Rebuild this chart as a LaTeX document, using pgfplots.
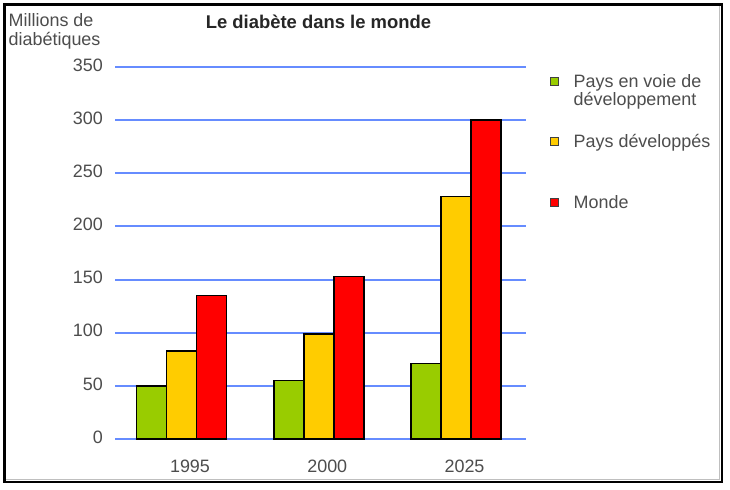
\documentclass[border=0pt]{standalone}
\usepackage{pgfplots}
\pgfplotsset{compat=1.18}
\usepackage{fontspec}
\setmainfont{Liberation Sans}
\definecolor{gridblue}{RGB}{102,140,255}
\definecolor{bargreen}{RGB}{153,204,0}
\definecolor{baryellow}{RGB}{255,204,0}
\definecolor{barred}{RGB}{255,0,0}
\definecolor{txtgray}{RGB}{77,77,77}
\begin{document}
\begin{tikzpicture}[x=1bp,y=1bp]
\useasboundingbox (0,0) rectangle (730,490);
\fill[white] (0,0) rectangle (730,490);
\begin{axis}[
  at={(115bp,51bp)}, anchor=south west,
  width=411bp, height=372bp, scale only axis,
  xmin=-0.4845, xmax=2.51, ymin=0, ymax=350,
  axis line style={draw=none},
  major tick length=0pt,
  clip=false,
  xtick={0,1,2}, xticklabels={1995,2000,2025},
  ytick={0,50,...,350},
  /pgf/number format/assume math mode=true,
  ymajorgrids, grid style={gridblue, line width=2bp},
  tick label style={font=\fontsize{18}{19}\selectfont, text=txtgray, inner sep=0pt},
  yticklabel style={anchor=east, xshift=-12bp, yshift=2bp},
  xticklabel style={anchor=north, xshift=8.5bp, yshift=-21bp},
  legend style={at={(1.0584,0.9731)}, anchor=north west, draw=none, fill=none,
    inner sep=0pt, outer sep=0pt, row sep=49.5bp, column sep=14.7bp,
    font=\fontsize{18}{19}\selectfont, text=txtgray,
    cells={anchor=base west, inner sep=0pt, text height=0pt, text depth=0pt},
    nodes={inner sep=0pt, text height=0pt, text depth=0pt}},
]
\addplot[ybar, bar width=0.2186, bar shift=-0.2186, fill=bargreen, draw=black, line width=1.5bp,
  legend image code/.code={\draw[fill=bargreen, draw=black!75, line width=1bp] (0bp,2bp) rectangle (8bp,10bp);}]
  coordinates {(0,50) (1,55) (2,71)};
\addlegendentry{\vtop{\baselineskip=18.5bp\hbox{Pays en voie de}\hbox{développement}}}
\addplot[ybar, bar width=0.2186, bar shift=0, fill=baryellow, draw=black, line width=1.5bp,
  legend image code/.code={\draw[fill=baryellow, draw=black!75, line width=1bp] (0bp,2bp) rectangle (8bp,10bp);}]
  coordinates {(0,83) (1,99) (2,228)};
\addlegendentry{Pays développés}
\addplot[ybar, bar width=0.2186, bar shift=0.2186, fill=barred, draw=black, line width=1.5bp,
  legend image code/.code={\draw[fill=barred, draw=black!75, line width=1bp] (0bp,2bp) rectangle (8bp,10bp);}]
  coordinates {(0,135) (1,153) (2,300)};
\addlegendentry{Monde}
\end{axis}
\node[anchor=base, font=\bfseries\fontsize{18.5}{19}\selectfont, text=black!85, inner sep=0pt] at (318.5,461.7) {Le diabète dans le monde};
\node[anchor=base west, font=\fontsize{18}{19}\selectfont, text=txtgray, inner sep=0pt] at (8.5,463.3) {Millions de};
\node[anchor=base west, font=\fontsize{18}{19}\selectfont, text=txtgray, inner sep=0pt] at (8.5,444.3) {diabétiques};
\draw[gray!50, line width=1bp] (719.3,484.5) -- (719.3,10.7) -- (6,10.7);
\draw[black, line width=2.5bp] (4.3,485.7) rectangle (722,8);
\end{tikzpicture}
\end{document}
